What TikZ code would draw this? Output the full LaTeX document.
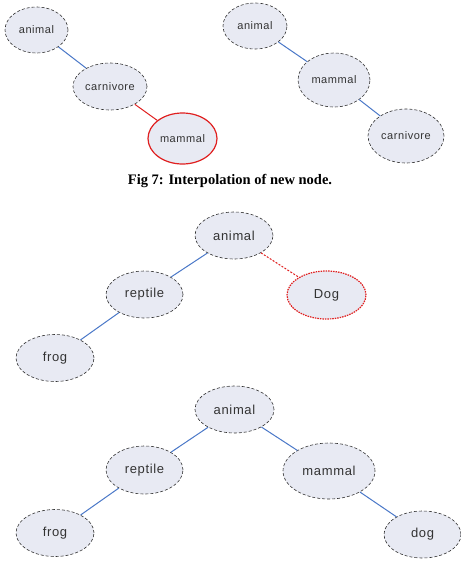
\documentclass[tikz,border=0pt]{standalone}
\usepackage{fontspec}
\usetikzlibrary{shapes.geometric}
\setmainfont{Liberation Serif}
\newfontfamily\nodefont[LetterSpace=5]{Liberation Sans}
\definecolor{linkc}{HTML}{4A78C8}
\definecolor{fillc}{HTML}{E8EAF3}
\definecolor{redc}{HTML}{E02020}
\definecolor{textc}{HTML}{333333}
\begin{document}
\begin{tikzpicture}[x=1pt,y=-1pt,
  concept/.style={ellipse, draw=black!80, densely dashed, line width=0.6pt, fill=fillc, inner sep=0pt, text=textc},
  newnode/.style={ellipse, draw=redc, line width=1.2pt, fill=fillc, inner sep=0pt, text=textc},
  dognode/.style={ellipse, draw=redc, dash pattern=on 1.5pt off 1pt, line width=1.2pt, fill=fillc, inner sep=0pt, text=textc},
  small/.style={font=\nodefont\fontsize{11}{13}\selectfont},
  big/.style={font=\nodefont\fontsize{13}{15}\selectfont},
  link/.style={draw=linkc, line width=1pt},
  redlink/.style={draw=redc, line width=1pt},
  reddash/.style={draw=redc, line width=1pt, dash pattern=on 2pt off 1.5pt},
  el/.style n args={2}{minimum width=#1pt, minimum height=#2pt},
]
\useasboundingbox (0,0) rectangle (461,571);
\fill[white] (0,0) rectangle (461,571);
% Figure 7 left
\node[concept, small, el={63}{46}] (a1) at (36.5,30) {animal};
\node[concept, small, el={74}{47}] (c1) at (110,86.5) {carnivore};
\node[newnode, small, el={69}{51}] (m1) at (182.5,138.5) {mammal};
% Figure 7 right
\node[concept, small, el={64}{46}] (a2) at (255,26) {animal};
\node[concept, small, el={72}{54}] (m2) at (334,80) {mammal};
\node[concept, small, el={76}{54}] (c2) at (406,136) {carnivore};
\node[font=\bfseries\fontsize{14.5}{16}\selectfont] (cap) at (230,181) {Fig 7: Interpolation of new node.};
% Middle tree
\node[concept, big, el={78}{47}] (a3) at (234,235.5) {animal};
\node[concept, big, el={77}{47}] (r3) at (144.5,294.5) {reptile};
\node[dognode, big, el={79}{48}] (d3) at (326.5,295) {Dog};
\node[concept, big, el={78}{47}] (f3) at (55,358) {frog};
% Bottom tree
\node[concept, big, el={79}{47}] (a4) at (234.5,409.5) {animal};
\node[concept, big, el={77}{48}] (r4) at (144.5,470) {reptile};
\node[concept, big, el={92}{56}] (m4) at (329,471) {mammal};
\node[concept, big, el={78}{47}] (f4) at (55,533) {frog};
\node[concept, big, el={77}{47}] (d4) at (422.5,534.5) {dog};
% connectors
\path[link] (a1) -- (c1);
\path[redlink] (c1) -- (m1);
\path[link] (a2) -- (m2);
\path[link] (m2) -- (c2);
\path[link] (a3) -- (r3);
\path[link] (r3) -- (f3);
\path[reddash] (a3) -- (d3);
\path[link] (a4) -- (r4);
\path[link] (r4) -- (f4);
\path[link] (a4) -- (m4);
\path[link] (m4) -- (d4);
\end{tikzpicture}
\end{document}
